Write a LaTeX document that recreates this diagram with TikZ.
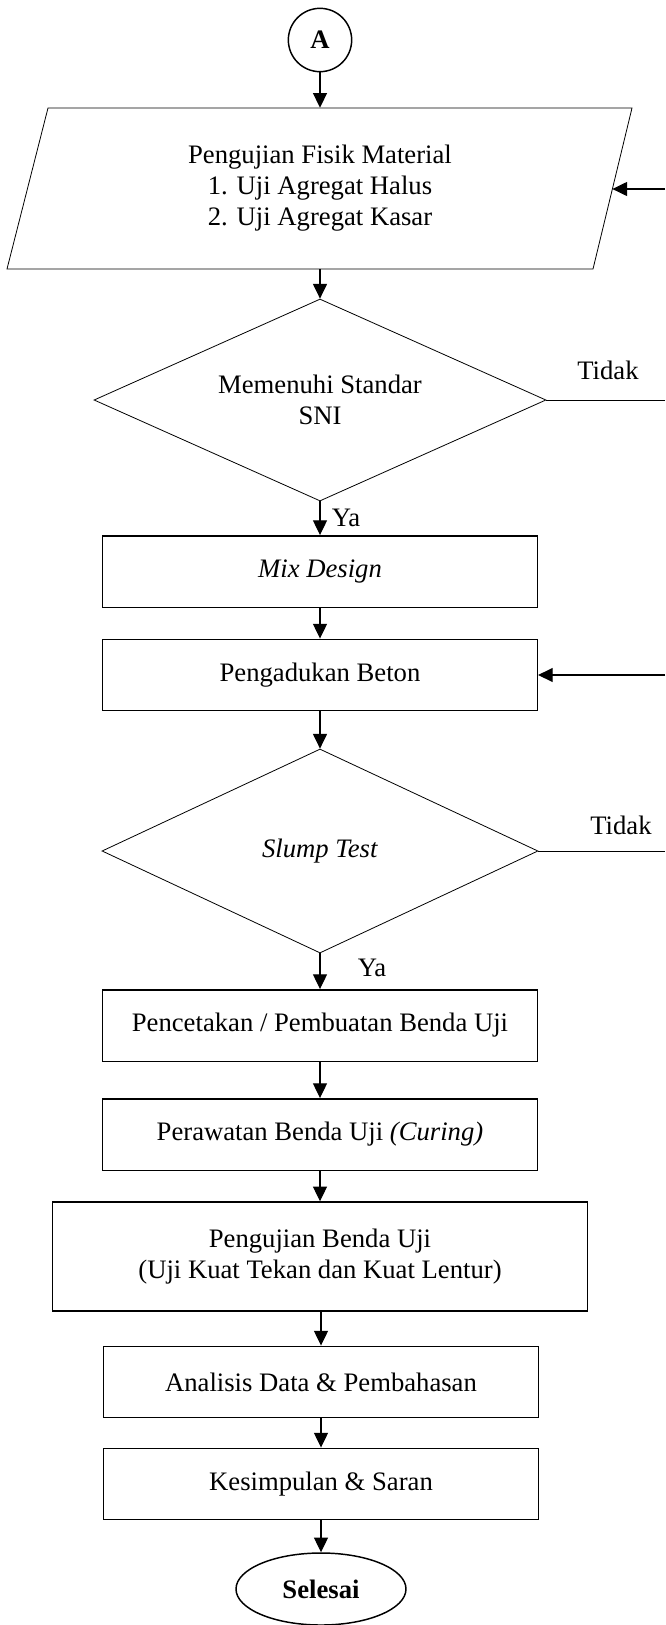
\documentclass[tikz,border=0pt]{standalone}
\usepackage{fontspec}
\setmainfont{Liberation Serif}
\usetikzlibrary{arrows.meta,shapes.geometric}

\begin{document}
\begin{tikzpicture}[x=0.75pt,y=0.75pt,yscale=-1,xscale=1,
  every node/.style={font=\fontsize{20}{23.3}\selectfont},
  prosesbox/.style={draw,line width=1.1pt,minimum width=326pt,minimum height=53.6pt,inner sep=0pt,align=center},
  decisionbox/.style={draw,diamond,aspect=2.2,line width=0.6pt,inner sep=0pt,align=center},
  terminalbox/.style={draw,ellipse,line width=1.1pt,minimum width=127.5pt,minimum height=54pt,inner sep=0pt,font=\fontsize{20}{23.3}\selectfont\bfseries},
  arrowline/.style={line width=0.8pt,-{Triangle[length=11pt,width=10.5pt]}},
  thinline/.style={line width=0.6pt}]
\useasboundingbox (0,0) rectangle (665,1625);

% Text Node
\node[draw,circle,line width=1.1pt,minimum size=47.5pt,inner sep=0pt,font=\fontsize{20}{23.3}\selectfont\bfseries] (A) at (320,40) {A};
% Text Node
\draw[thinline] (48,108) -- (632,108) -- (593,269) -- (7,269) -- cycle;
\node[inner sep=0pt,minimum height=120.75pt,align=center] (fisik) at (320,188.5) {Pengujian Fisik Material\\1. Uji Agregat Halus\\2. Uji Agregat Kasar};
\coordinate (fisikR) at (612.4,189);
% Text Node
\node[decisionbox,minimum width=339pt,minimum height=151.5pt] (sni) at (320,400) {Memenuhi Standar\\SNI};
% Text Node
\node[prosesbox] (mix) at (320,571.5) {\textit{Mix Design}};
% Text Node
\node[prosesbox] (aduk) at (320,675) {Pengadukan Beton};
% Text Node
\node[decisionbox,minimum width=327pt,minimum height=153pt] (slump) at (320,851) {\textit{Slump Test}};
% Text Node
\node[prosesbox] (cetak) at (320,1025.5) {Pencetakan / Pembuatan Benda Uji};
% Text Node
\node[prosesbox] (rawat) at (320,1134.5) {Perawatan Benda Uji \textit{(Curing)}};
% Text Node
\node[prosesbox,minimum width=401pt,minimum height=81.75pt] (uji) at (320,1256.5) {Pengujian Benda Uji\\(Uji Kuat Tekan dan Kuat Lentur)};
% Text Node
\node[prosesbox] (analisis) at (321,1382) {Analisis Data \& Pembahasan};
% Text Node
\node[prosesbox] (simpul) at (321,1484) {Kesimpulan \& Saran};
% Text Node
\node[terminalbox] (selesai) at (321,1589) {Selesai};

% Text Node
\node (tidakA) at (608,370) {Tidak};
\node (tidakB) at (621,825) {Tidak};
\node (yaA) at (346,518) {Ya};
\node (yaB) at (372,968) {Ya};

\coordinate (edgeA) at (665,400);
\coordinate (edgeB) at (665,851);
\coordinate (edgeC) at (665,189);
\coordinate (edgeD) at (665,675);

% Connection
\draw[arrowline] (A) -- (fisik);
\draw[arrowline] (fisik) -- (sni);
\draw[arrowline] (sni) -- (mix);
\draw[arrowline] (mix) -- (aduk);
\draw[arrowline] (aduk) -- (slump);
\draw[arrowline] (slump) -- (cetak);
\draw[arrowline] (cetak) -- (rawat);
\draw[arrowline] (rawat) -- (uji);
\draw[arrowline] (uji.south -| analisis) -- (analisis);
\draw[arrowline] (analisis) -- (simpul);
\draw[arrowline] (simpul) -- (selesai);
% Connection
\draw[thinline] (sni.east) -- (edgeA);
\draw[thinline] (slump.east) -- (edgeB);
\draw[arrowline] (edgeC) -- (fisikR);
\draw[arrowline] (edgeD) -- (aduk.east);

\end{tikzpicture}
\end{document}
